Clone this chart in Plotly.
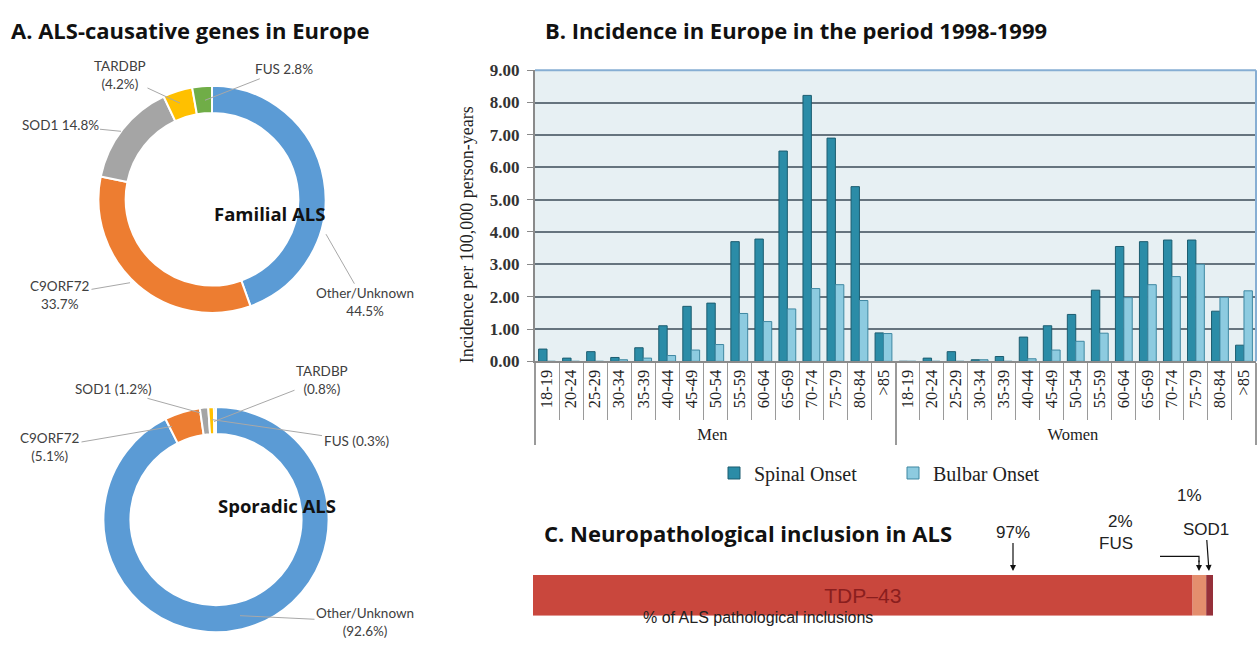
import plotly.graph_objects as go

W, H = 1257, 648
def px(x): return x / W
def py(y): return 1 - y / H

# ---------------- data ----------------
genes = ["Other/Unknown", "C9ORF72", "SOD1", "TARDBP", "FUS"]
familial_pct = [44.5, 33.7, 14.8, 4.2, 2.8]
sporadic_pct = [92.6, 5.1, 1.2, 0.8, 0.3]
gene_colors = ["#5B9BD5", "#ED7D31", "#A5A5A5", "#FFC000", "#70AD47"]

age_groups = ["18-19", "20-24", "25-29", "30-34", "35-39", "40-44", "45-49", "50-54",
              "55-59", "60-64", "65-69", "70-74", "75-79", "80-84", ">85"]
sexes = ["Men", "Women"]
men_spinal = [0.38, 0.10, 0.30, 0.12, 0.42, 1.10, 1.70, 1.80, 3.70, 3.78, 6.50, 8.22, 6.90, 5.40, 0.88]
men_bulbar = [0.00, 0.00, 0.00, 0.05, 0.10, 0.18, 0.35, 0.52, 1.48, 1.23, 1.62, 2.25, 2.37, 1.88, 0.86]
women_spinal = [0.00, 0.10, 0.30, 0.05, 0.15, 0.75, 1.10, 1.45, 2.20, 3.55, 3.70, 3.75, 3.75, 1.55, 0.50]
women_bulbar = [0.00, 0.00, 0.00, 0.05, 0.00, 0.08, 0.35, 0.62, 0.87, 1.97, 2.37, 2.62, 3.00, 1.98, 2.18]

inclusion_types = ["TDP–43", "FUS", "SOD1"]
inclusion_pct = [97, 2, 1]
inclusion_colors = ["#C9473D", "#E48E6E", "#96303A"]

# ---------------- figure ----------------
fig = go.Figure()

# Panel A donuts
for vals, dom in [(familial_pct, dict(x=[px(95), px(329)], y=[py(313), py(79)])),
                  (sporadic_pct, dict(x=[px(100), px(332)], y=[py(642), py(410)]))]:
    fig.add_trace(go.Pie(values=vals, labels=genes, hole=0.76, sort=False,
                         direction="clockwise", rotation=0, textinfo="none",
                         marker=dict(colors=gene_colors, line=dict(color="white", width=2)),
                         domain=dom, showlegend=False))

# Panel B bars
xcat = [[s for s in sexes for _ in age_groups], age_groups * 2]
fig.add_trace(go.Bar(x=xcat, y=men_spinal + women_spinal, name="Spinal Onset",
                     marker=dict(color="#2B8CA7", line=dict(color="#1C5D70", width=1)),
                     xaxis="x", yaxis="y"))
fig.add_trace(go.Bar(x=xcat, y=men_bulbar + women_bulbar, name="Bulbar Onset",
                     marker=dict(color="#8DCBE0", line=dict(color="#3F88A2", width=1)),
                     xaxis="x", yaxis="y"))

# Panel C stacked bar
bases = [sum(inclusion_pct[:i]) for i in range(len(inclusion_pct))]
fig.add_trace(go.Bar(y=["inc"] * 3, x=inclusion_pct, base=bases, orientation="h",
                     width=1, marker=dict(color=inclusion_colors, line=dict(width=0)),
                     text=[inclusion_types[0], "", ""], textposition="inside",
                     insidetextanchor="middle",
                     textfont=dict(family="Liberation Sans", size=21, color="#8A1E1E"),
                     showlegend=False, xaxis="x2", yaxis="y2"))

serif = "Liberation Serif"
fig.update_layout(
    width=W, height=H, margin=dict(l=0, r=0, t=0, b=0),
    paper_bgcolor="white", plot_bgcolor="rgba(0,0,0,0)",
    barmode="group", bargap=0.3, bargroupgap=0,
    xaxis=dict(type="multicategory", domain=[px(535), px(1256)], anchor="y",
               tickangle=-90, ticks="outside", tickson="boundaries", ticklen=57,
               tickcolor="#9a9a9a", showdividers=True, dividercolor="#9a9a9a",
               dividerwidth=1.5, showline=True, linecolor="#8a8a8a", linewidth=1.5,
               tickfont=dict(family=serif, size=16.5, color="#222"), showgrid=False),
    yaxis=dict(domain=[py(363), py(63)], range=[0, 9], dtick=1, tickformat=".2f",
               showgrid=True, gridcolor="#66747E", gridwidth=1.5, zeroline=False,
               showline=True, linecolor="#8a8a8a", linewidth=2, ticks="outside",
               ticklen=6, tickcolor="#8a8a8a", ticklabelstandoff=4,
               tickfont=dict(family=serif, size=17, color="#333", weight="bold")),
    xaxis2=dict(domain=[px(533), px(1213)], range=[0, 100], visible=False, anchor="y2"),
    yaxis2=dict(domain=[py(625), py(583)], range=[-0.5, 0.5], visible=False, anchor="x2"),
    legend=dict(orientation="h", x=px(714), y=py(478), xanchor="left", yanchor="middle",
                font=dict(family=serif, size=20, color="#222"), entrywidth=134,
                bgcolor="rgba(0,0,0,0)"),
)

# Panel B background & top/right border
fig.add_shape(type="rect", xref="x domain", yref="y domain", x0=0, x1=1, y0=0, y1=1,
              fillcolor="#E7F0F3", line=dict(width=0), layer="below")
fig.add_shape(type="line", xref="x domain", yref="y domain", x0=0, x1=1, y0=1, y1=1,
              line=dict(color="#86AED3", width=2))
fig.add_shape(type="line", xref="x domain", yref="y domain", x0=1, x1=1, y0=0, y1=1,
              line=dict(color="#86AED3", width=2))

ann = []
title_font = dict(family="Open Sans", size=22, color="#111", weight="bold")
for txt, x, y in [("A. ALS-causative genes in Europe", 9, 22),
                  ("B. Incidence in Europe in the period 1998-1999", 543, 22),
                  ("C. Neuropathological inclusion in ALS", 542, 540)]:
    ann.append(dict(text=txt, x=px(x), y=py(y), xref="paper", yref="paper",
                    xanchor="left", yanchor="middle", showarrow=False, font=title_font))

for txt, x, y in [("Familial ALS", 212, 196), ("Sporadic ALS", 216, 526)]:
    ann.append(dict(text=txt, x=px(x), y=py(y), xref="paper", yref="paper",
                    showarrow=False,
                    font=dict(family="Open Sans", size=18.5, color="#111", weight="bold")))

# leader-line labels: (text, text centre px, tip px)
labels = [
    ("FUS 2.8%", (284, 63), (205, 94)),
    ("TARDBP<br>(4.2%)", (120, 69), (180, 97)),
    ("SOD1 14.8%", (60, 120), (121, 126)),
    ("C9ORF72<br>33.7%", (60, 294), (130, 282)),
    ("Other/Unknown<br>44.5%", (365, 300), (326, 232)),
    ("SOD1 (1.2%)", (113, 392), (200, 416)),
    ("TARDBP<br>(0.8%)", (322, 383), (214, 425)),
    ("FUS (0.3%)", (356, 444), (212, 423)),
    ("C9ORF72<br>(5.1%)", (50, 451), (172, 430)),
    ("Other/Unknown<br>(92.6%)", (365, 631), (240, 625)),
]
for txt, (tx, ty), (ex, ey) in labels:
    ann.append(dict(text=txt, x=px(ex), y=py(ey), xref="paper", yref="paper",
                    ax=tx - ex, ay=ty - ey, showarrow=True, arrowhead=0, arrowwidth=1,
                    arrowcolor="#A8A8A8", standoff=0,
                    font=dict(family="Lato", size=13.5, color="#404040")))

# y-axis title of panel B
ann.append(dict(text="Incidence per 100,000 person-years", x=px(467), y=py(233),
                xref="paper", yref="paper", textangle=-90, showarrow=False,
                font=dict(family=serif, size=18, color="#222")))

# Panel C labels
cfont = dict(family="Liberation Sans", size=17, color="#222")
ann.append(dict(text="% of ALS pathological inclusions", x=px(875), y=py(638),
                xref="paper", yref="paper", showarrow=False,
                font=dict(family="Liberation Sans", size=16, color="#222")))
ann.append(dict(text="97%", x=px(1013), y=py(579), xref="paper", yref="paper",
                ax=0, ay=-39, showarrow=True, arrowhead=2, arrowwidth=1.2,
                arrowcolor="#111", font=cfont))
ann.append(dict(text="2%", x=px(1135), y=py(540), xref="paper", yref="paper",
                showarrow=False, font=cfont))
ann.append(dict(text="FUS", x=px(1135), y=py(562), xref="paper", yref="paper",
                showarrow=False, font=cfont))
ann.append(dict(text="1%", x=px(1204), y=py(513), xref="paper", yref="paper",
                showarrow=False, font=cfont))
ann.append(dict(text="SOD1", x=px(1209), y=py(579), xref="paper", yref="paper",
                ax=-3, ay=-42, showarrow=True, arrowhead=2, arrowwidth=1.2,
                arrowcolor="#111", font=cfont))
fig.add_shape(type="path", xref="paper", yref="paper",
              path=f"M {px(1160)} {py(564)} L {px(1199)} {py(564)} L {px(1199)} {py(570)}",
              line=dict(color="#111", width=1.2))
ann.append(dict(text="", x=px(1199), y=py(579), xref="paper", yref="paper",
                ax=0, ay=-12, showarrow=True, arrowhead=2, arrowwidth=1.2,
                arrowcolor="#111"))

fig.update_layout(annotations=ann)
fig.write_html("out.html", config={"displayModeBar": False},
               post_script="document.body.style.margin='0';document.body.style.overflow='hidden';")
